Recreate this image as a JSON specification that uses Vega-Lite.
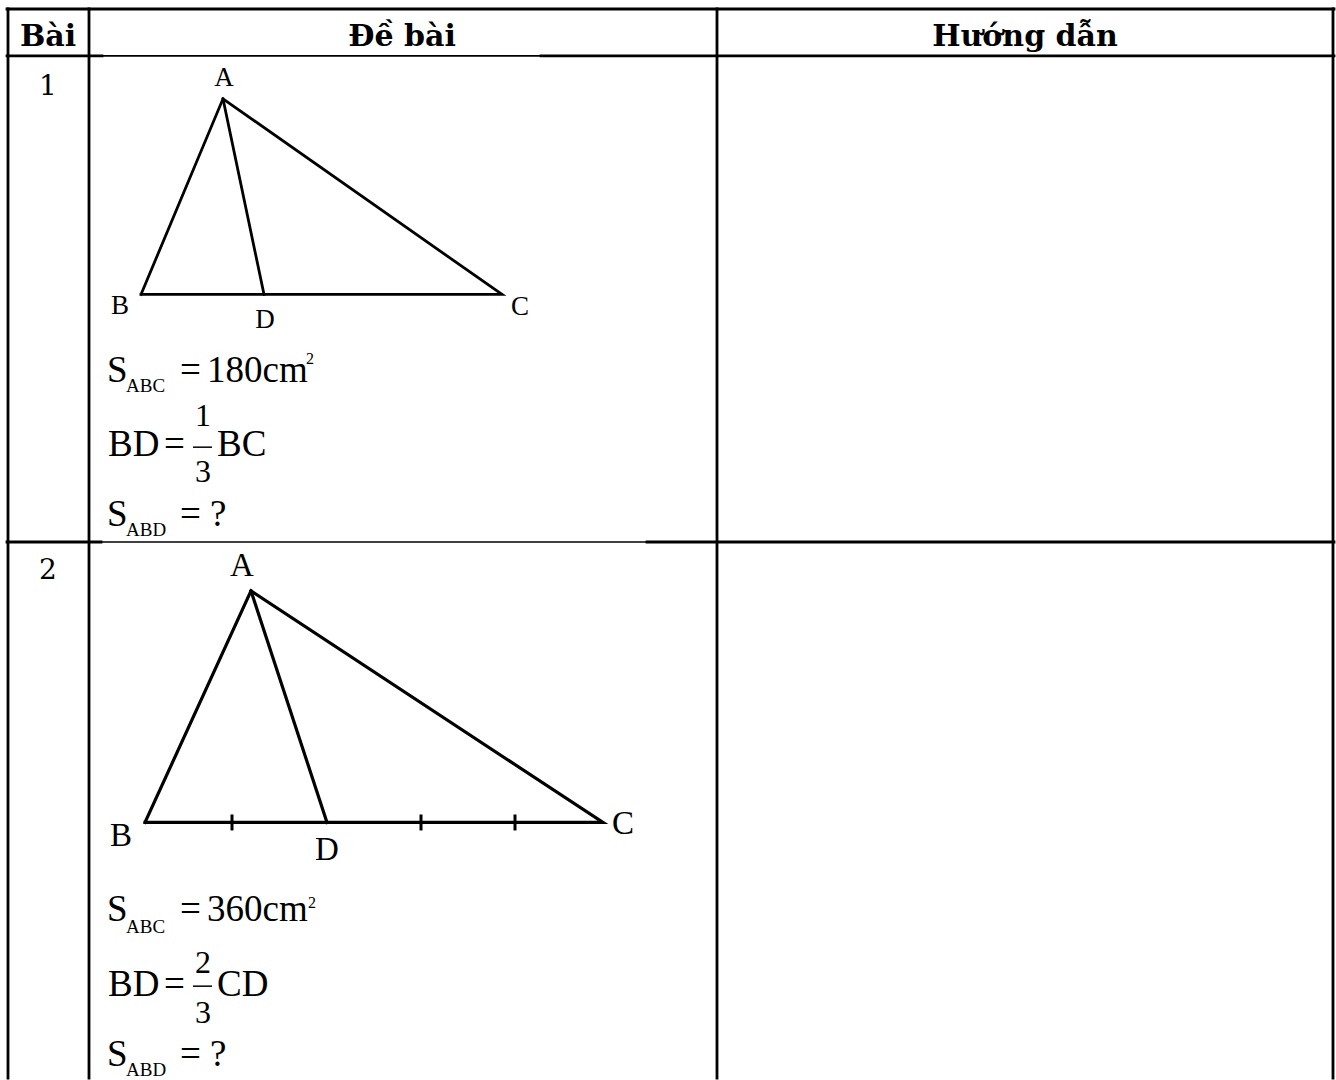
{
  "$schema": "https://vega.github.io/schema/vega-lite/v6.json",
  "width": 1336,
  "height": 1080,
  "padding": 0,
  "autosize": {"type": "fit", "contains": "padding"},
  "background": "white",
  "config": {"view": {"stroke": null}},
  "datasets": {
    "segs": [
      {"x": 7, "y": 9, "x2": 1334, "y2": 9, "kind": "border"},
      {"x": 8, "y": 9, "x2": 8, "y2": 1080, "kind": "border"},
      {"x": 89, "y": 9, "x2": 89, "y2": 1080, "kind": "border"},
      {"x": 717, "y": 9, "x2": 717, "y2": 1080, "kind": "border"},
      {"x": 1333, "y": 9, "x2": 1333, "y2": 1080, "kind": "border"},
      {"x": 7, "y": 56, "x2": 102, "y2": 56, "kind": "border"},
      {"x": 102, "y": 56, "x2": 541, "y2": 56, "kind": "thin"},
      {"x": 541, "y": 56, "x2": 1334, "y2": 56, "kind": "border"},
      {"x": 7, "y": 543, "x2": 101, "y2": 543, "kind": "border"},
      {"x": 101, "y": 543, "x2": 647, "y2": 543, "kind": "thin"},
      {"x": 647, "y": 543, "x2": 1334, "y2": 543, "kind": "border"},
      {"x": 232, "y": 816, "x2": 232, "y2": 832, "kind": "tick"},
      {"x": 421, "y": 816, "x2": 421, "y2": 832, "kind": "tick"},
      {"x": 515, "y": 816, "x2": 515, "y2": 832, "kind": "tick"},
      {"x": 193, "y": 448, "x2": 212, "y2": 448, "kind": "bar"},
      {"x": 193, "y": 988, "x2": 212, "y2": 988, "kind": "bar"}
    ],
    "tri": [
      {"path": "t1", "kind": "fig1", "o": 1, "x": 141, "y": 295},
      {"path": "t1", "kind": "fig1", "o": 2, "x": 223, "y": 99},
      {"path": "t1", "kind": "fig1", "o": 3, "x": 502, "y": 295},
      {"path": "t1", "kind": "fig1", "o": 4, "x": 141, "y": 295},
      {"path": "d1", "kind": "fig1", "o": 1, "x": 223, "y": 99},
      {"path": "d1", "kind": "fig1", "o": 2, "x": 264, "y": 295},
      {"path": "t2", "kind": "fig2", "o": 1, "x": 145, "y": 824},
      {"path": "t2", "kind": "fig2", "o": 2, "x": 251, "y": 592},
      {"path": "t2", "kind": "fig2", "o": 3, "x": 603, "y": 824},
      {"path": "t2", "kind": "fig2", "o": 4, "x": 145, "y": 824},
      {"path": "d2", "kind": "fig2", "o": 1, "x": 251, "y": 592},
      {"path": "d2", "kind": "fig2", "o": 2, "x": 327, "y": 824}
    ],
    "texts": [
      {"role": "head", "x": 48, "y": 46, "t": "Bài"},
      {"role": "head", "x": 402, "y": 46, "t": "Đề bài"},
      {"role": "head", "x": 1025, "y": 46, "t": "Hướng dẫn"},
      {"role": "num", "x": 48, "y": 95, "t": "1"},
      {"role": "num", "x": 48, "y": 580, "t": "2"},
      {"role": "lab1", "x": 224, "y": 86, "t": "A"},
      {"role": "lab1", "x": 120, "y": 315, "t": "B"},
      {"role": "lab1", "x": 265, "y": 329, "t": "D"},
      {"role": "lab1", "x": 520, "y": 316, "t": "C"},
      {"role": "lab2", "x": 242, "y": 577, "t": "A"},
      {"role": "lab2", "x": 121, "y": 848, "t": "B"},
      {"role": "lab2", "x": 327, "y": 862, "t": "D"},
      {"role": "lab2", "x": 623, "y": 836, "t": "C"},
      {"role": "main", "x": 107, "y": 383, "t": "S"},
      {"role": "sub", "x": 126, "y": 393, "t": "ABC"},
      {"role": "main", "x": 180, "y": 383, "t": "="},
      {"role": "main", "x": 207, "y": 383, "t": "180cm"},
      {"role": "sup", "x": 306, "y": 365, "t": "2"},
      {"role": "main", "x": 108, "y": 457, "t": "BD"},
      {"role": "main", "x": 164, "y": 457, "t": "="},
      {"role": "frac", "x": 195, "y": 427, "t": "1"},
      {"role": "frac", "x": 195, "y": 483, "t": "3"},
      {"role": "main", "x": 217, "y": 457, "t": "BC"},
      {"role": "main", "x": 107, "y": 527, "t": "S"},
      {"role": "sub", "x": 126, "y": 537, "t": "ABD"},
      {"role": "main", "x": 180, "y": 527, "t": "= ?"},
      {"role": "main", "x": 107, "y": 923, "t": "S"},
      {"role": "sub", "x": 126, "y": 935, "t": "ABC"},
      {"role": "main", "x": 180, "y": 923, "t": "="},
      {"role": "main", "x": 207, "y": 923, "t": "360cm"},
      {"role": "sup", "x": 308, "y": 910, "t": "2"},
      {"role": "main", "x": 108, "y": 998, "t": "BD"},
      {"role": "main", "x": 164, "y": 998, "t": "="},
      {"role": "frac", "x": 195, "y": 975, "t": "2"},
      {"role": "frac", "x": 195, "y": 1025, "t": "3"},
      {"role": "main", "x": 217, "y": 998, "t": "CD"},
      {"role": "main", "x": 107, "y": 1068, "t": "S"},
      {"role": "sub", "x": 126, "y": 1078, "t": "ABD"},
      {"role": "main", "x": 180, "y": 1068, "t": "= ?"}
    ]
  },
  "encoding": {
    "x": {"field": "x", "type": "quantitative", "scale": {"domain": [0, 1336], "nice": false, "zero": false}, "axis": null},
    "y": {"field": "y", "type": "quantitative", "scale": {"domain": [0, 1080], "nice": false, "zero": false, "reverse": true}, "axis": null}
  },
  "layer": [
    {
      "data": {"name": "segs"},
      "transform": [{"filter": "datum.kind === 'border'"}],
      "mark": {"type": "rule", "color": "black", "strokeWidth": 2.8, "strokeCap": "square"},
      "encoding": {"x2": {"field": "x2"}, "y2": {"field": "y2"}}
    },
    {
      "data": {"name": "segs"},
      "transform": [{"filter": "datum.kind === 'thin'"}],
      "mark": {"type": "rule", "color": "black", "strokeWidth": 1.6},
      "encoding": {"x2": {"field": "x2"}, "y2": {"field": "y2"}}
    },
    {
      "data": {"name": "segs"},
      "transform": [{"filter": "datum.kind === 'tick'"}],
      "mark": {"type": "rule", "color": "black", "strokeWidth": 3},
      "encoding": {"x2": {"field": "x2"}, "y2": {"field": "y2"}}
    },
    {
      "data": {"name": "segs"},
      "transform": [{"filter": "datum.kind === 'bar'"}],
      "mark": {"type": "rule", "color": "black", "strokeWidth": 1.5},
      "encoding": {"x2": {"field": "x2"}, "y2": {"field": "y2"}}
    },
    {
      "data": {"name": "tri"},
      "transform": [{"filter": "datum.kind === 'fig1'"}],
      "mark": {"type": "line", "color": "black", "strokeWidth": 2.8, "strokeJoin": "miter", "strokeCap": "square", "strokeMiterLimit": 20},
      "encoding": {
        "detail": {"field": "path", "type": "nominal"},
        "order": {"field": "o", "type": "quantitative"}
      }
    },
    {
      "data": {"name": "tri"},
      "transform": [{"filter": "datum.kind === 'fig2'"}],
      "mark": {"type": "line", "color": "black", "strokeWidth": 3.2, "strokeJoin": "miter", "strokeCap": "square", "strokeMiterLimit": 20},
      "encoding": {
        "detail": {"field": "path", "type": "nominal"},
        "order": {"field": "o", "type": "quantitative"}
      }
    },
    {
      "data": {"name": "texts"},
      "transform": [{"filter": "datum.role === 'head'"}],
      "mark": {"type": "text", "font": "DejaVu Serif", "fontWeight": "bold", "fontSize": 30, "align": "center", "baseline": "alphabetic", "color": "black"},
      "encoding": {"text": {"field": "t"}}
    },
    {
      "data": {"name": "texts"},
      "transform": [{"filter": "datum.role === 'num'"}],
      "mark": {"type": "text", "font": "DejaVu Serif", "fontSize": 28, "align": "center", "baseline": "alphabetic", "color": "black"},
      "encoding": {"text": {"field": "t"}}
    },
    {
      "data": {"name": "texts"},
      "transform": [{"filter": "datum.role === 'lab1'"}],
      "mark": {"type": "text", "font": "Liberation Serif", "fontSize": 27, "align": "center", "baseline": "alphabetic", "color": "black"},
      "encoding": {"text": {"field": "t"}}
    },
    {
      "data": {"name": "texts"},
      "transform": [{"filter": "datum.role === 'lab2'"}],
      "mark": {"type": "text", "font": "Liberation Serif", "fontSize": 33, "align": "center", "baseline": "alphabetic", "color": "black"},
      "encoding": {"text": {"field": "t"}}
    },
    {
      "data": {"name": "texts"},
      "transform": [{"filter": "datum.role === 'main'"}],
      "mark": {"type": "text", "font": "Liberation Serif", "fontSize": 37, "align": "left", "baseline": "alphabetic", "color": "black"},
      "encoding": {"text": {"field": "t"}}
    },
    {
      "data": {"name": "texts"},
      "transform": [{"filter": "datum.role === 'frac'"}],
      "mark": {"type": "text", "font": "Liberation Serif", "fontSize": 32, "align": "left", "baseline": "alphabetic", "color": "black"},
      "encoding": {"text": {"field": "t"}}
    },
    {
      "data": {"name": "texts"},
      "transform": [{"filter": "datum.role === 'sub'"}],
      "mark": {"type": "text", "font": "Liberation Serif", "fontSize": 19, "align": "left", "baseline": "alphabetic", "color": "black"},
      "encoding": {"text": {"field": "t"}}
    },
    {
      "data": {"name": "texts"},
      "transform": [{"filter": "datum.role === 'sup'"}],
      "mark": {"type": "text", "font": "Liberation Serif", "fontSize": 16, "align": "left", "baseline": "alphabetic", "color": "black"},
      "encoding": {"text": {"field": "t"}}
    }
  ]
}
